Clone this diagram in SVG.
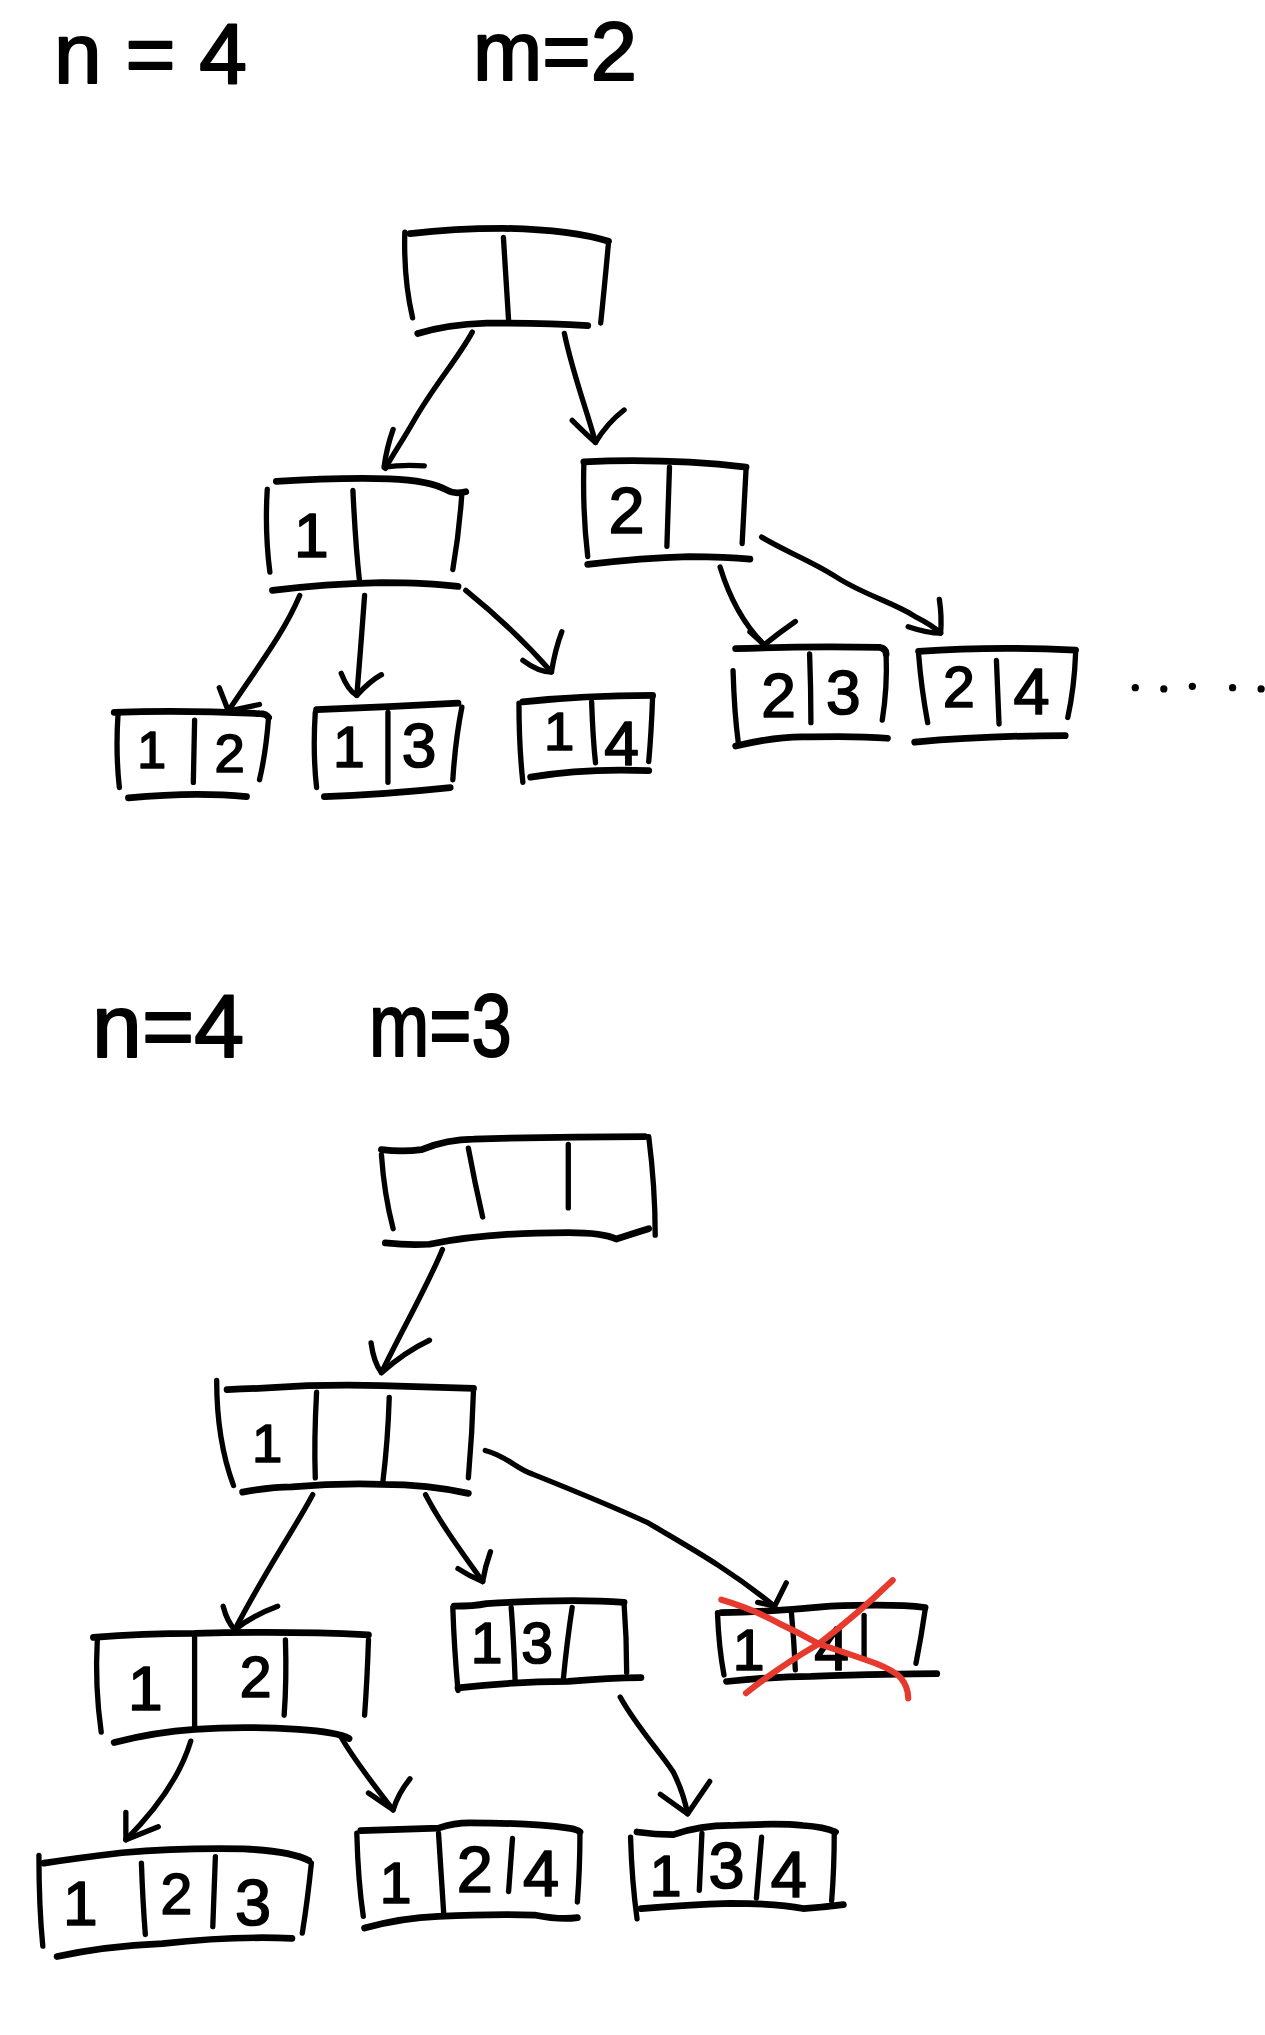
<svg xmlns="http://www.w3.org/2000/svg" width="1265" height="2035" viewBox="0 0 1265 2035">
<style>
.s{fill:none;stroke:#000;stroke-width:4.1;stroke-linecap:round;stroke-linejoin:round}
.h{fill:none;stroke:#000;stroke-width:5.2;stroke-linecap:round;stroke-linejoin:round}
.c{fill:none;stroke:#000;stroke-width:4.1;stroke-linecap:round;stroke-linejoin:round}
.t{font-family:"Liberation Sans",Arial,sans-serif;fill:#000;stroke:#000;stroke-width:1.3;stroke-linejoin:round;text-anchor:middle}
.hd{font-family:"Liberation Sans",Arial,sans-serif;fill:#000;stroke:#000;stroke-width:1.6;stroke-linejoin:round}
.x{fill:none;stroke:#e63a2e;stroke-width:4.8;stroke-linecap:round;stroke-linejoin:round}
.dot{fill:#000}
</style>
<rect width="1265" height="2035" fill="#fff"/>
<g transform="scale(1.29744)">
<g id="headers">
<text class="hd" x="41.6" y="64" font-size="66">n = 4</text>
<text class="hd" x="364.6" y="62" font-size="64">m=2</text>
<text class="hd" x="71" y="815" font-size="69">n=4</text>
<text class="hd" x="284.5" y="814" font-size="69" textLength="110" lengthAdjust="spacingAndGlyphs">m=3</text>
</g>

<g id="connectors">
<path class="c" d="M364 256 C352 278 335 296 318 326 C310 340 303 350 297 361"/>
<path class="c" d="M303 331 Q298 345 296 360 Q310 358 327 359"/>
<path class="c" d="M435 257 C442 290 452 315 459 341"/>
<path class="c" d="M441 324 Q452 335 459 341 Q468 326 481 316"/>
<path class="c" d="M231 459 C220 485 205 505 176 548"/>
<path class="c" d="M169 530 L176 548 L200 543"/>
<path class="c" d="M281 459 Q278 500 275 536"/>
<path class="c" d="M263 519 Q268 532 275 536 Q285 525 294 520"/>
<path class="c" d="M359 455 C380 472 405 495 425 518"/>
<path class="c" d="M403 509 Q415 518 425 518 Q428 500 433 487"/>
<path class="c" d="M555 437 C562 460 572 480 589 497"/>
<path class="c" d="M578 487 L589 497 Q600 488 613 479"/>
<path class="c" d="M587 414 C605 425 625 432 645 445 C665 458 690 465 705 475 C715 480 722 485 725 488"/>
<path class="c" d="M700 483 Q715 488 725 488 Q726 475 724 462"/>
<path class="c" d="M341 963 C330 990 310 1025 294 1058"/>
<path class="c" d="M286 1035 Q288 1050 294 1058 Q312 1042 331 1033"/>
<path class="c" d="M241 1152 C226 1180 205 1210 181 1256"/>
<path class="c" d="M172 1238 Q175 1250 181 1256 Q195 1245 214 1238"/>
<path class="c" d="M328 1152 C340 1175 355 1195 372 1219"/>
<path class="c" d="M353 1209 Q362 1215 372 1219 Q374 1207 378 1196"/>
<path class="c" d="M374 1118 C390 1122 398 1132 410 1136 C440 1148 470 1160 500 1174 C530 1192 560 1208 597 1238"/>
<path class="c" d="M584 1235 L597 1238 L606 1220"/>
<path class="c" d="M147 1342 C140 1365 125 1390 97 1418"/>
<path class="c" d="M97 1397 L97 1418 L122 1408"/>
<path class="c" d="M263 1339 C272 1355 285 1372 303 1395"/>
<path class="c" d="M284 1382 L303 1395 Q307 1382 316 1371"/>
<path class="c" d="M478 1308 C490 1330 510 1352 519 1366 C525 1378 528 1388 530 1398"/>
<path class="c" d="M509 1383 L530 1398 L547 1373"/>
</g>

<g id="root1">
<path class="h" d="M316 180 Q350 176 388 176 Q440 177 469 186"/>
<path class="s" d="M312 179 Q311 215 318 245"/>
<path class="s" d="M469 187 Q466 220 463 249"/>
<path class="s" d="M388 183 Q390 215 392 247"/>
<path class="h" d="M322 257 Q345 250 375 249 Q420 249 453 251"/>
</g>

<g id="node-1">
<path class="h" d="M213 371 Q260 368 300 369 Q331 370 345 378 Q350 381 359 379"/>
<path class="s" d="M206 377 Q204 410 208 441"/>
<path class="s" d="M356 380 Q354 410 349 439"/>
<path class="s" d="M272 378 Q274 420 277 447"/>
<path class="h" d="M210 455 Q250 450 294 449 Q330 449 353 452"/>
<text class="t" x="240" y="429" font-size="48">1</text>
</g>

<g id="node-2">
<path class="h" d="M450 356 Q513 353 575 360"/>
<path class="s" d="M450 358 Q449 395 453 429"/>
<path class="s" d="M575 362 L572 419"/>
<path class="s" d="M516 360 L514 421"/>
<path class="h" d="M453 435 Q495 430 531 429 Q560 429 578 431"/>
<text class="t" x="483" y="411" font-size="50">2</text>
</g>

<g id="node-12">
<path class="h" d="M88 549 Q140 547 200 550 Q205 550 207 553"/>
<path class="s" d="M91 550 Q89 580 92 607"/>
<path class="s" d="M207 553 Q205 580 200 601"/>
<path class="s" d="M150 555 L149 603"/>
<path class="h" d="M99 615 Q150 610 190 614"/>
<text class="t" x="117" y="592" font-size="40">1</text>
<text class="t" x="177" y="595" font-size="42">2</text>
</g>

<g id="node-13">
<path class="h" d="M244 547 Q300 545 353 542"/>
<path class="s" d="M243 549 Q241 580 244 607"/>
<path class="s" d="M356 545 Q351 570 349 601"/>
<path class="s" d="M299 549 L299 603"/>
<path class="h" d="M250 614 Q300 612 347 607"/>
<text class="t" x="269" y="591" font-size="44">1</text>
<text class="t" x="323" y="591" font-size="48">3</text>
</g>

<g id="node-14">
<path class="h" d="M403 541 Q450 536 503 536"/>
<path class="s" d="M400 542 Q400 575 403 603"/>
<path class="s" d="M503 537 Q502 565 500 587"/>
<path class="s" d="M456 541 Q457 570 459 588"/>
<path class="h" d="M409 599 Q450 592 500 594"/>
<text class="t" x="431" y="578" font-size="42">1</text>
<text class="t" x="479" y="590" font-size="48">4</text>
</g>

<g id="node-23">
<path class="h" d="M567 500 Q620 498 678 499 Q683 500 683 504"/>
<path class="s" d="M565 517 Q566 550 569 572"/>
<path class="s" d="M683 505 Q684 530 680 555"/>
<path class="s" d="M624 504 Q625 530 625 557"/>
<path class="h" d="M567 575 Q600 567 624 568 Q660 567 684 569"/>
<text class="t" x="600" y="553" font-size="48">2</text>
<text class="t" x="650" y="550" font-size="48">3</text>
</g>

<g id="node-24">
<path class="h" d="M708 502 Q765 498 829 501"/>
<path class="s" d="M708 504 Q710 530 715 557"/>
<path class="s" d="M829 504 Q828 530 823 553"/>
<path class="s" d="M768 509 L770 558"/>
<path class="h" d="M705 572 Q760 567 821 567"/>
<text class="t" x="739" y="545" font-size="44">2</text>
<text class="t" x="795" y="550" font-size="50">4</text>
</g>

<g id="ellipsis">
<circle class="dot" cx="875" cy="530" r="2.8"/>
<circle class="dot" cx="897" cy="531" r="2.8"/>
<circle class="dot" cx="919" cy="529" r="2.8"/>
<circle class="dot" cx="950" cy="530" r="2.8"/>
<circle class="dot" cx="972" cy="531" r="2.8"/>
</g>

<g id="root2">
<path class="h" d="M294 886 Q310 888 325 886 Q345 878 365 878 Q430 876 497 876"/>
<path class="s" d="M294 890 Q296 920 303 947"/>
<path class="s" d="M500 876 Q505 915 505 952"/>
<path class="s" d="M361 885 Q366 912 372 938"/>
<path class="s" d="M438 882 L438 931"/>
<path class="h" d="M297 958 Q315 960 331 959 Q375 950 438 950 Q465 950 475 955 Q490 950 500 947"/>
</g>

<g id="node-1b">
<path class="h" d="M175 1071 Q205 1070 237 1068 Q270 1067 294 1068 Q330 1069 365 1070"/>
<path class="s" d="M167 1064 Q167 1110 180 1145"/>
<path class="s" d="M365 1070 Q364 1105 361 1139"/>
<path class="s" d="M244 1073 Q242 1110 243 1139"/>
<path class="s" d="M300 1077 Q299 1110 295 1143"/>
<path class="h" d="M187 1150 Q210 1146 225 1146 Q260 1143 294 1144 Q330 1144 361 1151"/>
<text class="t" x="206" y="1127" font-size="42">1</text>
</g>

<g id="node-12b">
<path class="h" d="M72 1262 Q110 1259 150 1259 Q220 1257 284 1260"/>
<path class="s" d="M75 1264 Q73 1300 78 1335"/>
<path class="s" d="M284 1264 Q283 1295 281 1322"/>
<path class="s" d="M150 1262 L150 1331"/>
<path class="s" d="M220 1264 Q221 1295 219 1322"/>
<path class="h" d="M88 1343 Q120 1335 150 1333 Q187 1330 230 1333 Q260 1335 269 1340"/>
<text class="t" x="112" y="1318" font-size="48">1</text>
<text class="t" x="197" y="1308" font-size="44">2</text>
</g>

<g id="node-13b">
<path class="h" d="M350 1238 Q365 1238 375 1236 Q440 1232 481 1235"/>
<path class="s" d="M349 1239 Q350 1270 353 1303"/>
<path class="s" d="M481 1236 Q483 1262 483 1289"/>
<path class="s" d="M394 1239 Q396 1265 397 1295"/>
<path class="s" d="M441 1239 Q437 1265 434 1296"/>
<path class="h" d="M353 1301 Q395 1296 438 1296 Q470 1293 494 1293"/>
<text class="t" x="375" y="1282" font-size="44">1</text>
<text class="t" x="414" y="1282" font-size="44">3</text>
</g>

<g id="node-14b">
<path class="h" d="M556 1243 Q600 1242 640 1238 Q690 1236 713 1239"/>
<path class="s" d="M553 1243 Q554 1270 558 1291"/>
<path class="s" d="M713 1241 Q710 1262 706 1282"/>
<path class="s" d="M610 1243 Q612 1265 613 1287"/>
<path class="s" d="M666 1245 L666 1277"/>
<path class="h" d="M560 1296 Q600 1292 625 1292 Q690 1290 722 1290"/>
<text class="t" x="577" y="1287" font-size="44">1</text>
<text class="t" x="641" y="1287" font-size="48">4</text>
<path class="x" d="M556 1233 Q580 1240 600 1251 Q615 1258 631 1267 Q655 1275 675 1282 Q690 1288 694 1293 Q700 1300 700 1309"/>
<path class="x" d="M575 1305 Q600 1285 631 1267 Q660 1245 688 1218"/>
</g>

<g id="node-123">
<path class="h" d="M34 1436 Q60 1432 94 1428 Q140 1424 188 1425 Q225 1427 238 1434"/>
<path class="s" d="M30 1430 Q30 1470 33 1500"/>
<path class="s" d="M240 1436 Q237 1465 233 1490"/>
<path class="s" d="M109 1436 Q110 1465 112 1491"/>
<path class="s" d="M166 1431 Q165 1460 164 1485"/>
<path class="h" d="M44 1508 Q80 1500 125 1498 Q180 1492 225 1494"/>
<text class="t" x="62" y="1484" font-size="48">1</text>
<text class="t" x="136" y="1475" font-size="44">2</text>
<text class="t" x="195" y="1484" font-size="50">3</text>
</g>

<g id="node-124">
<path class="h" d="M278 1411 Q310 1410 338 1409 Q350 1405 362 1405 Q410 1405 438 1409 Q445 1410 447 1412"/>
<path class="s" d="M275 1413 Q276 1450 280 1477"/>
<path class="s" d="M447 1412 Q447 1440 445 1466"/>
<path class="s" d="M338 1413 Q340 1445 342 1475"/>
<path class="s" d="M395 1417 L392 1458"/>
<path class="h" d="M281 1486 Q310 1478 338 1477 Q380 1475 412 1476 Q432 1480 445 1478"/>
<text class="t" x="305" y="1467" font-size="44">1</text>
<text class="t" x="366" y="1458" font-size="50">2</text>
<text class="t" x="417" y="1461" font-size="50">4</text>
</g>

<g id="node-134">
<path class="h" d="M491 1412 Q505 1414 519 1414 Q540 1407 563 1407 Q600 1405 619 1407 Q635 1408 644 1412"/>
<path class="s" d="M486 1416 Q487 1450 491 1479"/>
<path class="s" d="M643 1412 Q643 1440 641 1465"/>
<path class="s" d="M541 1413 L539 1457"/>
<path class="s" d="M587 1416 L583 1463"/>
<path class="h" d="M494 1471 Q530 1468 563 1467 Q600 1467 619 1471 Q635 1470 650 1468"/>
<text class="t" x="513" y="1461" font-size="44">1</text>
<text class="t" x="560" y="1455" font-size="50">3</text>
<text class="t" x="608" y="1462" font-size="50">4</text>
</g>
</g>
</svg>
